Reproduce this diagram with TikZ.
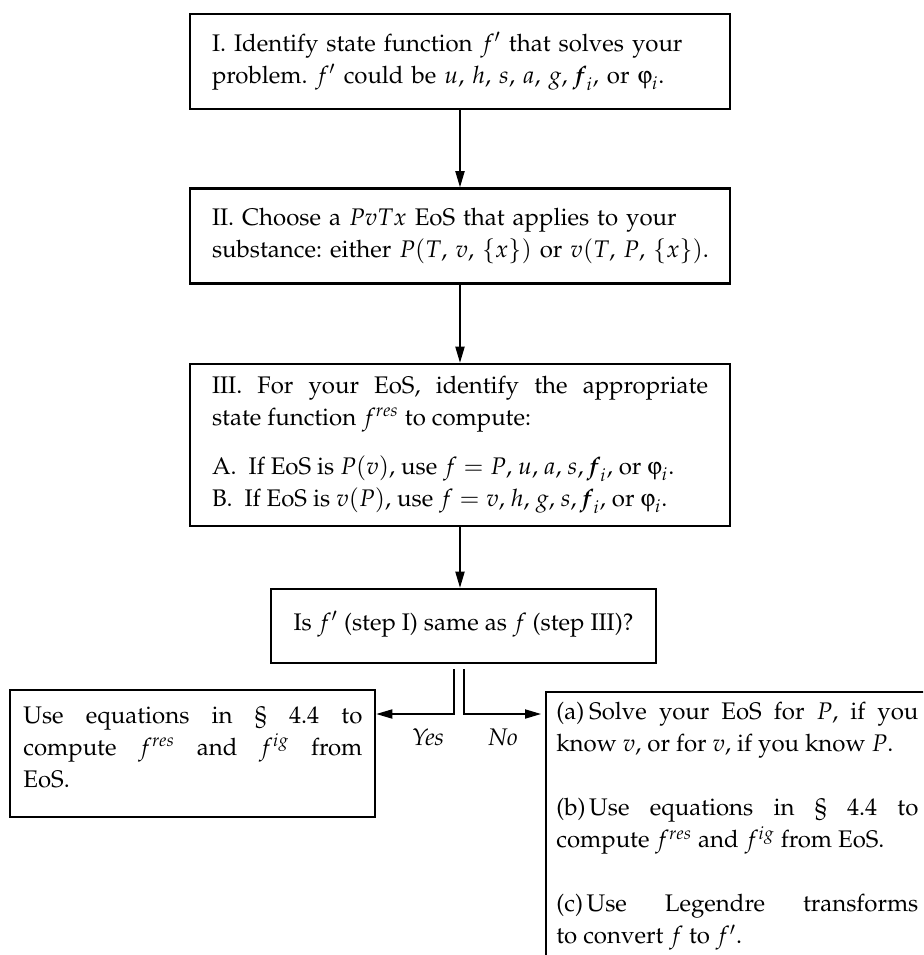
\documentclass[tikz,border=0pt]{standalone}
\usepackage[T1]{fontenc}
\usepackage{mathpazo}
\usepackage{amsmath}
\usepackage{pifont}
\usetikzlibrary{arrows.meta}
\frenchspacing
\newcommand{\phiup}{\mbox{\Pisymbol{psy}{106}}}
\newcommand{\bfi}{\textbf{\textit{f}}}
\tikzset{
  txt/.style={font=\fontsize{12}{16}\selectfont},
  boxnode/.style={draw, line width=1.3pt, txt, inner ysep=0pt},
  arr/.style={line width=0.6pt, -{Triangle[length=8pt,width=4.6pt]}},
  ln/.style={line width=0.6pt},
}
\begin{document}
\begin{tikzpicture}[x=0.5pt,y=-0.5pt]
\clip (0,0) rectangle (923,955);
\useasboundingbox (0,0) rectangle (923,955);
% main column
\node[boxnode, minimum width=540*0.5pt, minimum height=95*0.5pt, text width=496*0.5pt, align=left] (b1) at (460,61.5)
 {I. Identify state function $f'$ that solves your\\ problem. $f'$ could be $u$, $h$, $s$, $a$, $g$, $\bfi_i$, or $\phiup_i$.};
\node[boxnode, minimum width=540*0.5pt, minimum height=95*0.5pt, text width=496*0.5pt, align=left] (b2) at (460,236)
 {II. Choose a $PvTx$ EoS that applies to your\\ \mbox{substance: either $P(T,\,v,\,\{x\})$ or $v(T,\,P,\,\{x\})$.}};
\node[boxnode, minimum width=540*0.5pt, minimum height=162*0.5pt, text width=496*0.5pt, align=justify] (b3) at (460,445)
 {III. For your EoS, identify the appropriate\linebreak state function $f^{res}$ to compute:\par\vspace{8.5pt}
 A.\ \ If EoS is $P(v)$, use $f = P$, $u$, $a$, $s$, $\bfi_i$, or $\phiup_i$.\\
 B.\ \ If EoS is $v(P)$, use $f = v$, $h$, $g$, $s$, $\bfi_i$, or $\phiup_i$.};
% question box
\node[boxnode, minimum width=385*0.5pt, minimum height=74*0.5pt] (q) at (463.5,626) {};
\node[txt, anchor=base, inner sep=0pt] (qt) at (463.5,630) {Is $f'$ (step I) same as $f$ (step III)?};
% left box
\node[boxnode, minimum width=365*0.5pt, minimum height=127*0.5pt] (lb) at (192.5,753.5) {};
\node[txt, anchor=north west, inner sep=0pt, text width=339*0.5pt, align=justify] (lbt) at (23,706)
 {Use equations in \S\ 4.4 to\linebreak compute $f^{res}$ and $f^{ig}$ from\linebreak EoS.};
% right box (runs off the page)
\node[boxnode, minimum width=460*0.5pt, minimum height=360*0.5pt] (rb) at (776,872) {};
\node[txt, anchor=north west, inner sep=0pt, text width=362*0.5pt, align=justify] (rbt) at (556,702)
 {(a)\hspace{0.2em}Solve your EoS for $P$, if you\linebreak know $v$, or for $v$, if you know $P$.\\[16pt]
 (b)\hspace{0.15em}Use equations in \S\ 4.4 to\linebreak compute $f^{res}$ and $f^{ig}$ from EoS.\\[16pt]
 (c)\hspace{0.15em}Use Legendre transforms\linebreak to convert $f$ to $f'$.};
% connectors
\draw[arr] (b1.south) -- (b2.north);
\draw[arr] (b2.south) -- (b3.north);
\draw[arr] (b3.south) -- (b3.south |- q.north);
\coordinate (sl) at (454,669);
\coordinate (sr) at (464,669);
\coordinate (ya) at (0,714);
\coordinate (rt) at (541,714);
\draw[arr] (sl) |- (lb.east |- ya);
\draw[arr] (sr) |- (rt);
\node[txt, font=\fontsize{12}{16}\itshape] (yes) at (428,737) {Yes};
\node[txt, font=\fontsize{12}{16}\itshape] (no) at (503,737) {No};
\end{tikzpicture}
\end{document}
